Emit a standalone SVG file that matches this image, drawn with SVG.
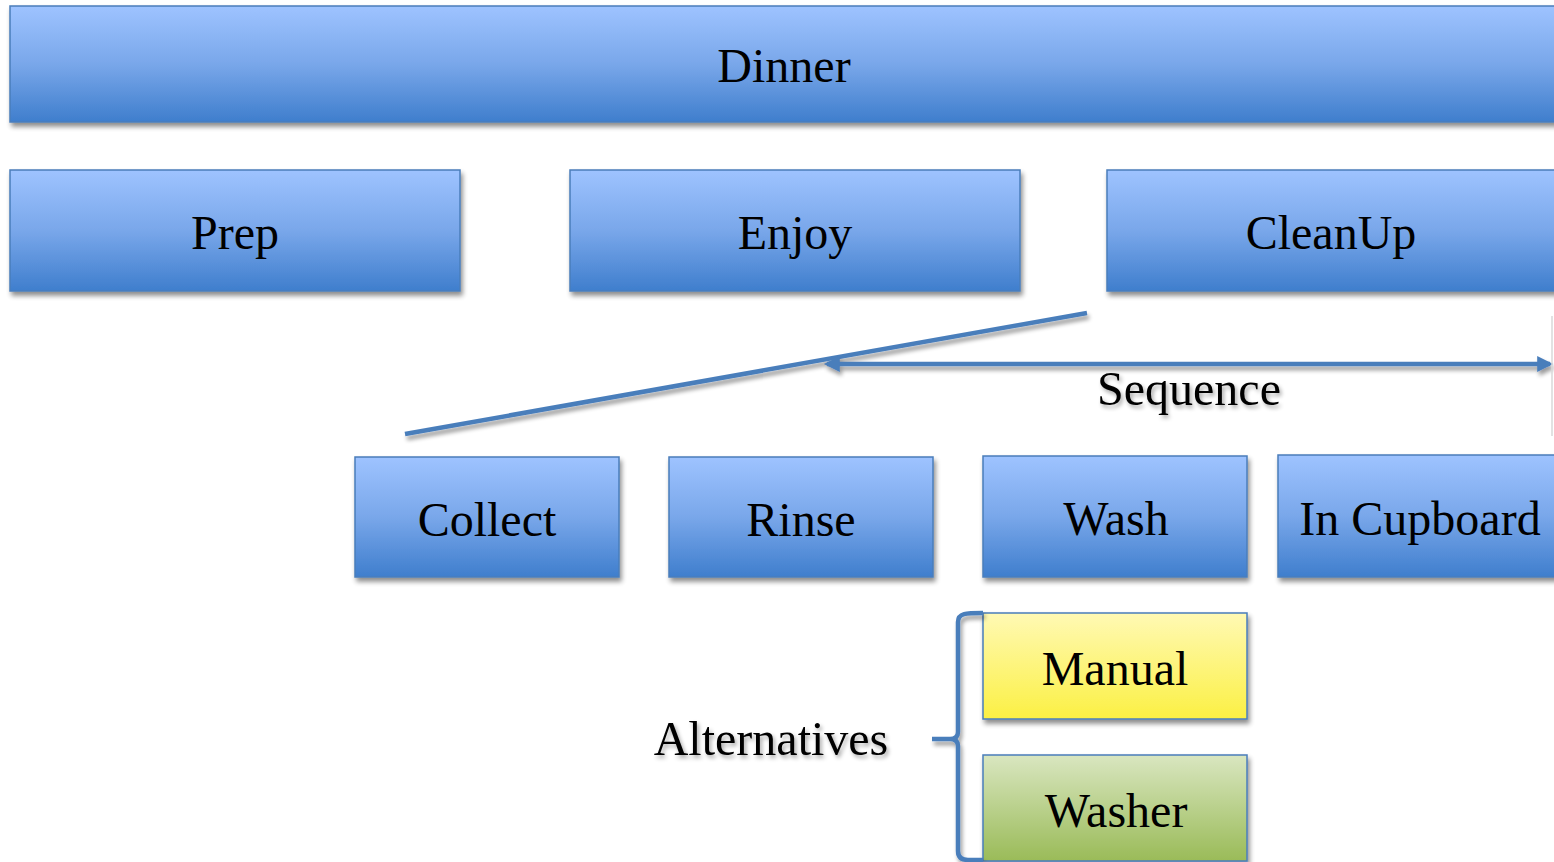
<svg xmlns="http://www.w3.org/2000/svg" width="1554" height="862" viewBox="0 0 1554 862">
<defs>
<linearGradient id="gBlue" x1="0" y1="0" x2="0" y2="1">
<stop offset="0" stop-color="#9ec3ff"/>
<stop offset="0.5" stop-color="#79a7ea"/>
<stop offset="1" stop-color="#3f7ecd"/>
</linearGradient>
<linearGradient id="gYellow" x1="0" y1="0" x2="0" y2="1">
<stop offset="0" stop-color="#fff9b4"/>
<stop offset="1" stop-color="#fbf044"/>
</linearGradient>
<linearGradient id="gGreen" x1="0" y1="0" x2="0" y2="1">
<stop offset="0" stop-color="#d9e6c0"/>
<stop offset="1" stop-color="#9abb58"/>
</linearGradient>
<filter id="sh" x="-5%" y="-10%" width="115%" height="130%">
<feGaussianBlur in="SourceAlpha" stdDeviation="2.5"/>
<feOffset dx="2" dy="4" result="b"/>
<feComponentTransfer><feFuncA type="linear" slope="0.45"/></feComponentTransfer>
<feMerge><feMergeNode/><feMergeNode in="SourceGraphic"/></feMerge>
</filter>
<filter id="lsh" filterUnits="userSpaceOnUse" x="0" y="0" width="1554" height="862">
<feGaussianBlur in="SourceAlpha" stdDeviation="2"/>
<feOffset dx="2" dy="4" result="b"/>
<feComponentTransfer><feFuncA type="linear" slope="0.4"/></feComponentTransfer>
<feMerge><feMergeNode/><feMergeNode in="SourceGraphic"/></feMerge>
</filter>
<filter id="tsh" x="-5%" y="-20%" width="115%" height="150%">
<feGaussianBlur in="SourceAlpha" stdDeviation="2"/>
<feOffset dx="2" dy="3" result="b"/>
<feComponentTransfer><feFuncA type="linear" slope="0.35"/></feComponentTransfer>
<feMerge><feMergeNode/><feMergeNode in="SourceGraphic"/></feMerge>
</filter>
<marker id="ah" viewBox="0 0 10 10" refX="8" refY="5" markerWidth="18" markerHeight="16" orient="auto-start-reverse" markerUnits="userSpaceOnUse">
<path d="M0,0 L10,5 L0,10 z" fill="#4a7ebb"/>
</marker>
<style>
.box{stroke:#4a7ebb;stroke-width:1.5;filter:url(#sh)}
.blue{fill:url(#gBlue)}
.yellow{fill:url(#gYellow)}
.green{fill:url(#gGreen)}
.lbl{font-family:"Liberation Serif","Times New Roman",serif;font-size:48px;fill:#000;text-anchor:middle}
.conn{stroke:#4a7ebb;stroke-width:4.5;fill:none;filter:url(#lsh)}
</style>
</defs>
<rect width="1554" height="862" fill="#fff"/>
<g id="dinner"><rect class="box blue" x="10" y="6" width="1560" height="116"/><text class="lbl" x="784" y="82">Dinner</text></g>
<g id="prep"><rect class="box blue" x="10" y="170" width="450" height="121"/><text class="lbl" x="235" y="249">Prep</text></g>
<g id="enjoy"><rect class="box blue" x="570" y="170" width="450" height="121"/><text class="lbl" x="795" y="249">Enjoy</text></g>
<g id="cleanup"><rect class="box blue" x="1107" y="170" width="460" height="121"/><text class="lbl" x="1331" y="249">CleanUp</text></g>
<g id="collect"><rect class="box blue" x="355" y="457" width="264" height="120"/><text class="lbl" x="487" y="536">Collect</text></g>
<g id="rinse"><rect class="box blue" x="669" y="457" width="264" height="120"/><text class="lbl" x="801" y="536">Rinse</text></g>
<g id="wash"><rect class="box blue" x="983" y="456" width="264" height="121"/><text class="lbl" x="1116" y="535">Wash</text></g>
<g id="incupboard"><rect class="box blue" x="1278" y="455" width="290" height="122"/><text class="lbl" x="1420" y="535">In Cupboard</text></g>
<g id="manual"><rect class="box yellow" x="983" y="613" width="264" height="106"/><text class="lbl" x="1115" y="685">Manual</text></g>
<g id="washer"><rect class="box green" x="983" y="755" width="264" height="106"/><text class="lbl" x="1116" y="827">Washer</text></g>
<g id="connectors">
<line class="conn" x1="1087" y1="313" x2="405" y2="434"/>
<line class="conn" x1="827" y1="364" x2="1550" y2="364" marker-start="url(#ah)" marker-end="url(#ah)"/>
<path class="conn" d="M983,613 C966,613 958,613 958,622 L958,732 Q958,739 950,739 L932,739 M950,739 Q958,739 958,746 L958,851 Q958,860 968,860 L983,860"/>
<line x1="1552" y1="316" x2="1552" y2="436" stroke="#d8d8d8" stroke-width="1.5"/>
</g>
<g id="labels">
<text class="lbl" x="1189" y="405" filter="url(#tsh)">Sequence</text>
<text class="lbl" x="771" y="755" filter="url(#tsh)">Alternatives</text>
</g>
</svg>
